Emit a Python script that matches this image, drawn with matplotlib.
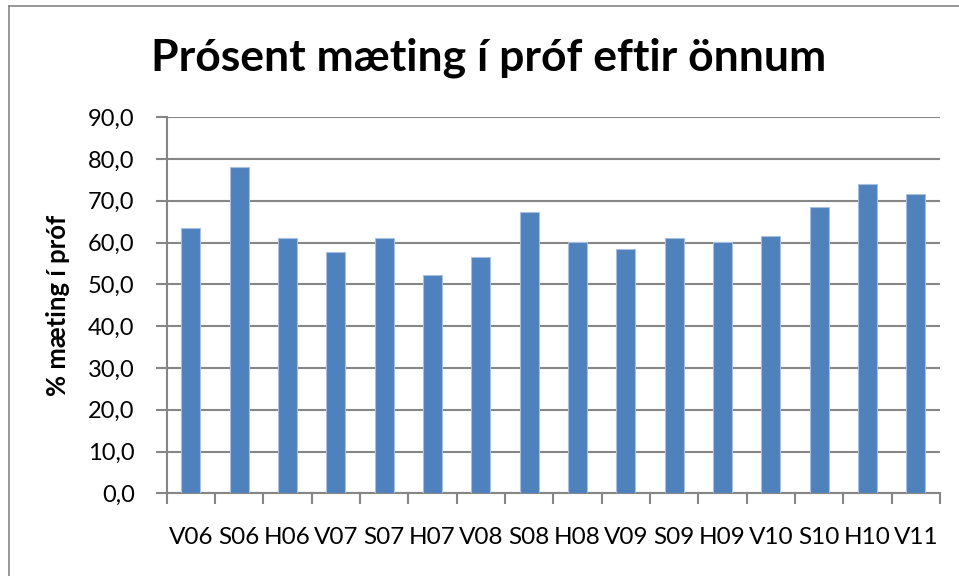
import matplotlib.pyplot as plt
from matplotlib.lines import Line2D

plt.rcParams["font.family"] = ["Lato", "DejaVu Sans"]

# =====================================================
# Datos
# =====================================================

terms = ["V06", "S06", "H06", "V07", "S07", "H07", "V08", "S08",
         "H08", "V09", "S09", "H09", "V10", "S10", "H10", "V11"]

attendance = [63.4, 78.0, 61.1, 57.7, 61.1, 52.3, 56.5, 67.3,
              60.1, 58.4, 61.1, 60.1, 61.5, 68.5, 74.1, 71.7]

yticks = [0, 10, 20, 30, 40, 50, 60, 70, 80, 90]

# =====================================================
# Figura
# =====================================================

fig = plt.figure(figsize=(9.59, 5.76), dpi=100)
ax = fig.add_axes([0.1738, 0.1436, 0.9802 - 0.1738, 0.7964 - 0.1436])

grey = "#868686"

ax.set_axisbelow(True)
ax.yaxis.grid(True, color=grey, linewidth=1.5)

pos = list(range(len(terms)))
ax.bar(pos, attendance, width=0.39, color="#4F81BD",
       edgecolor="#A7C0E0", linewidth=0.8, zorder=3)

ax.set_xlim(-0.5, len(terms) - 0.5)
ax.set_ylim(0, 90)

ax.set_yticks(yticks)
ax.set_yticklabels([f"{v:.1f}".replace(".", ",") for v in yticks])

# tick marks between categories, labels under each bar
ax.set_xticks([p - 0.5 for p in pos] + [len(terms) - 0.5])
ax.set_xticklabels([])
ax.set_xticks(pos, minor=True)
ax.set_xticklabels(terms, minor=True)

ax.tick_params(axis="x", which="major", length=8, width=1.5, color=grey)
ax.tick_params(axis="x", which="minor", length=0, pad=24, labelsize=17.5)
ax.tick_params(axis="y", length=8, width=1.5, color=grey, pad=15, labelsize=17)

for side in ["top", "right"]:
    ax.spines[side].set_visible(False)
for side in ["left", "bottom"]:
    ax.spines[side].set_color(grey)
    ax.spines[side].set_linewidth(1.5)

ax.set_ylabel("% mæting í próf", fontsize=18.5, fontweight="bold")
ax.yaxis.set_label_coords(-0.125, 0.5)

fig.text(0.51, 0.9, "Prósent mæting í próf eftir önnum",
         ha="center", va="center", fontsize=32, fontweight="bold")

# chart area border (cropped at right and bottom)
fig.add_artist(Line2D([8.5 / 959, 8.5 / 959], [0, 1 - 5.5 / 576],
                      color=grey, linewidth=1.2, transform=fig.transFigure))
fig.add_artist(Line2D([8.5 / 959, 1], [1 - 5.5 / 576, 1 - 5.5 / 576],
                      color=grey, linewidth=1.2, transform=fig.transFigure))

fig.savefig("out.png", dpi=100)
plt.close()
